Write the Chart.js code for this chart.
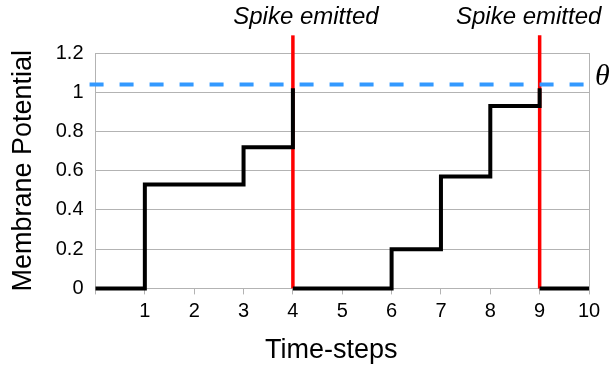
<!DOCTYPE html>
<html>
<head>
<meta charset="utf-8">
<script src="https://cdn.jsdelivr.net/npm/chart.js@4.4.1/dist/chart.umd.min.js"></script>
<style>
  html, body { margin: 0; padding: 0; background: #fff; }
  #wrap { width: 614px; height: 375px; }
</style>
</head>
<body>
<div id="wrap"><canvas id="mycanvas" width="614" height="375"></canvas></div>
<script>
// time-steps and membrane potential (null = break in the line after a spike)
var steps     = [0, 1,    2,    3,    4,    4,    4, 5, 6,   7,    8,    9,    9,    9, 10];
var potential = [0, 0.53, 0.53, 0.72, 1.02, null, 0, 0, 0.2, 0.57, 0.93, 1.02, null, 0, 0];

var spikeTimes = [4, 9];
var spikeLabel = 'Spike emitted';
var spikeTop = 1.29;

var threshold = 1.04;
var thresholdFrom = -0.12;
var thresholdTo = 10;

var xTicks = ['', '1', '2', '3', '4', '5', '6', '7', '8', '9', '10'];
var yTicks = ['0', '0.2', '0.4', '0.6', '0.8', '1', '1.2'];
var xTitle = 'Time-steps';

var gridGray = '#b3b3b3';

Chart.defaults.font.family = '"Liberation Sans", Arial, sans-serif';
Chart.defaults.color = '#000';

var potentialData = [];
for (var i in steps) {
    potentialData.push({x: steps[i], y: potential[i]});
}

var datasets = [
    {
        label: 'potential',
        data: potentialData,
        stepped: true,
        borderColor: '#000',
        borderWidth: 4,
        pointRadius: 0,
        spanGaps: false,
        clip: false,
        order: 1
    },
    {
        label: 'threshold',
        data: [{x: thresholdFrom, y: threshold}, {x: thresholdTo, y: threshold}],
        borderColor: '#3399ff',
        borderWidth: 4,
        borderDash: [14, 16],
        pointRadius: 0,
        clip: false,
        order: 0
    }
];

spikeTimes.forEach(function(t) {
    datasets.push({
        label: 'spike ' + t,
        data: [{x: t, y: 0}, {x: t, y: spikeTop}],
        borderColor: '#ff0000',
        borderWidth: 3.5,
        pointRadius: 0,
        clip: false,
        order: 2
    });
});

var annotations = {
    id: 'annotations',
    afterDraw: function(chart) {
        var ctx = chart.ctx;
        var xs = chart.scales.x;
        var ys = chart.scales.y;
        var area = chart.chartArea;
        var shifts = [13, -11];
        ctx.save();
        ctx.fillStyle = '#000';
        ctx.font = 'italic 24px "Liberation Sans", Arial, sans-serif';
        ctx.textAlign = 'center';
        ctx.textBaseline = 'alphabetic';
        spikeTimes.forEach(function(t, k) {
            ctx.fillText(spikeLabel, xs.getPixelForValue(t) + shifts[k], 24);
        });
        // x axis title, sitting a bit left of the plot centre
        ctx.font = '27px "Liberation Sans", Arial, sans-serif';
        ctx.textBaseline = 'middle';
        ctx.fillText(xTitle, (area.left + area.right) / 2 - 11, 351);
        ctx.font = 'italic 30px "Liberation Serif", "Times New Roman", serif';
        ctx.textAlign = 'left';
        ctx.fillText('\u03B8', area.right + 6, ys.getPixelForValue(threshold) - 7);
        ctx.restore();
    }
};

var ctx = document.getElementById('mycanvas');

var lineGraph = new Chart(ctx, {
    type: 'line',
    data: {datasets: datasets},
    options: {
        responsive: false,
        animation: false,
        layout: {padding: {top: 53, right: 25, left: 0, bottom: 0}},
        plugins: {legend: {display: false}, tooltip: {enabled: false}},
        scales: {
            x: {
                type: 'linear',
                min: 0,
                max: 10,
                afterFit: function(scale) { scale.height = 86.6; },
                border: {color: gridGray, width: 1},
                grid: {
                    color: function(c) {
                        return (c.tick && (c.tick.value === 0 || c.tick.value === 10)) ? gridGray : 'rgba(0,0,0,0)';
                    },
                    tickColor: gridGray,
                    tickLength: 6
                },
                ticks: {
                    stepSize: 1,
                    padding: 5,
                    maxRotation: 0,
                    font: {size: 20},
                    callback: function(v) { return xTicks[v]; }
                }
            },
            y: {
                min: 0,
                max: 1.2,
                afterFit: function(scale) { scale.width = 95.5; },
                border: {color: gridGray, width: 1},
                grid: {color: gridGray, drawTicks: false},
                ticks: {
                    stepSize: 0.2,
                    padding: 12,
                    font: {size: 20},
                    callback: function(v, idx) { return yTicks[idx]; }
                },
                title: {
                    display: true,
                    text: 'Membrane Potential',
                    font: {size: 27},
                    padding: {top: 7, bottom: 0}
                }
            }
        }
    },
    plugins: [annotations]
});
</script>
</body>
</html>
